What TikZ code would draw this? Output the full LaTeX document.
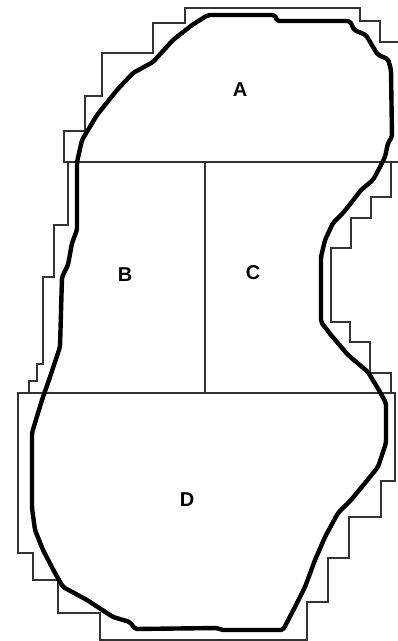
\documentclass[tikz,border=0pt]{standalone}
\usepackage{fontspec}
\setmainfont{Liberation Sans}
\begin{document}
\begin{tikzpicture}[x=1pt,y=-1pt,
  gridline/.style={line width=1.1pt, draw=black!80},
  outline/.style={line width=4.4pt, line join=round, line cap=round, rounded corners=2pt, draw=black},
  lab/.style={font=\fontsize{20}{20}\selectfont\bfseries, inner sep=0pt}]
\useasboundingbox (0,0) rectangle (398,641);
\clip (0,0) rectangle (398,641);
% staircase outline
\draw[gridline] (185,8) -- (360,8) -- (360,21) -- (380,21) -- (380,42) -- (405,42)
  -- (405,162) -- (391,162) -- (391,197) -- (371,197) -- (371,218) -- (351,218)
  -- (351,248) -- (331,248) -- (331,322) -- (350,322) -- (350,342) -- (370,342)
  -- (370,373) -- (391,373) -- (391,393) -- (395,393) -- (395,481) -- (381,481)
  -- (381,517) -- (349,517) -- (349,558) -- (328,558) -- (328,602) -- (307,602)
  -- (307,640) -- (100,640) -- (100,613) -- (58,613) -- (58,580) -- (33,580)
  -- (33,553) -- (18,553) -- (18,393) -- (29,393) -- (29,381) -- (37,381)
  -- (37,364) -- (43,364) -- (43,277) -- (54,277) -- (54,225) -- (68,225)
  -- (68,162) -- (64,162) -- (64,131) -- (85,131) -- (85,96) -- (102,96)
  -- (102,53) -- (153,53) -- (153,23) -- (185,23) -- cycle;
% region boundaries
\draw[gridline] (64,162) -- (398,162);
\draw[gridline] (205,162) -- (205,393);
\draw[gridline] (18,393) -- (395,393);
% thick boundary
\draw[outline] (77,162) -- (82,140) -- (97,115) -- (117,90) -- (133,73) -- (153,62)
  -- (173,40) -- (192,25) -- (208,15) -- (275,15) -- (277,21) -- (350,21)
  -- (354,30) -- (366,35) -- (373,47) -- (378,55) -- (388,59) -- (391,70)
  -- (392,137) -- (388,143) -- (385,157) -- (380,167) -- (373,180) -- (361,190)
  -- (351,203) -- (343,213) -- (333,223) -- (325,240) -- (321,257) -- (321,322)
  -- (331,335) -- (348,355) -- (368,372) -- (380,392) -- (386,403) -- (386,443)
  -- (378,467) -- (365,483) -- (351,500) -- (338,513) -- (325,537) -- (315,560)
  -- (305,587) -- (295,607) -- (283,630) -- (221,630) -- (218,628) -- (135,629)
  -- (130,622) -- (113,617) -- (87,600) -- (63,587) -- (55,573) -- (43,550)
  -- (35,530) -- (32,508) -- (32,433) -- (35,423) -- (42,400) -- (50,377)
  -- (60,347) -- (62,277) -- (68,265) -- (72,243) -- (77,230) -- cycle;
% labels
\node[lab] (la) at (240,90) {A};
\node[lab] (lb) at (125,275) {B};
\node[lab] (lc) at (253,273) {C};
\node[lab] (ld) at (187,500) {D};
\end{tikzpicture}
\end{document}
